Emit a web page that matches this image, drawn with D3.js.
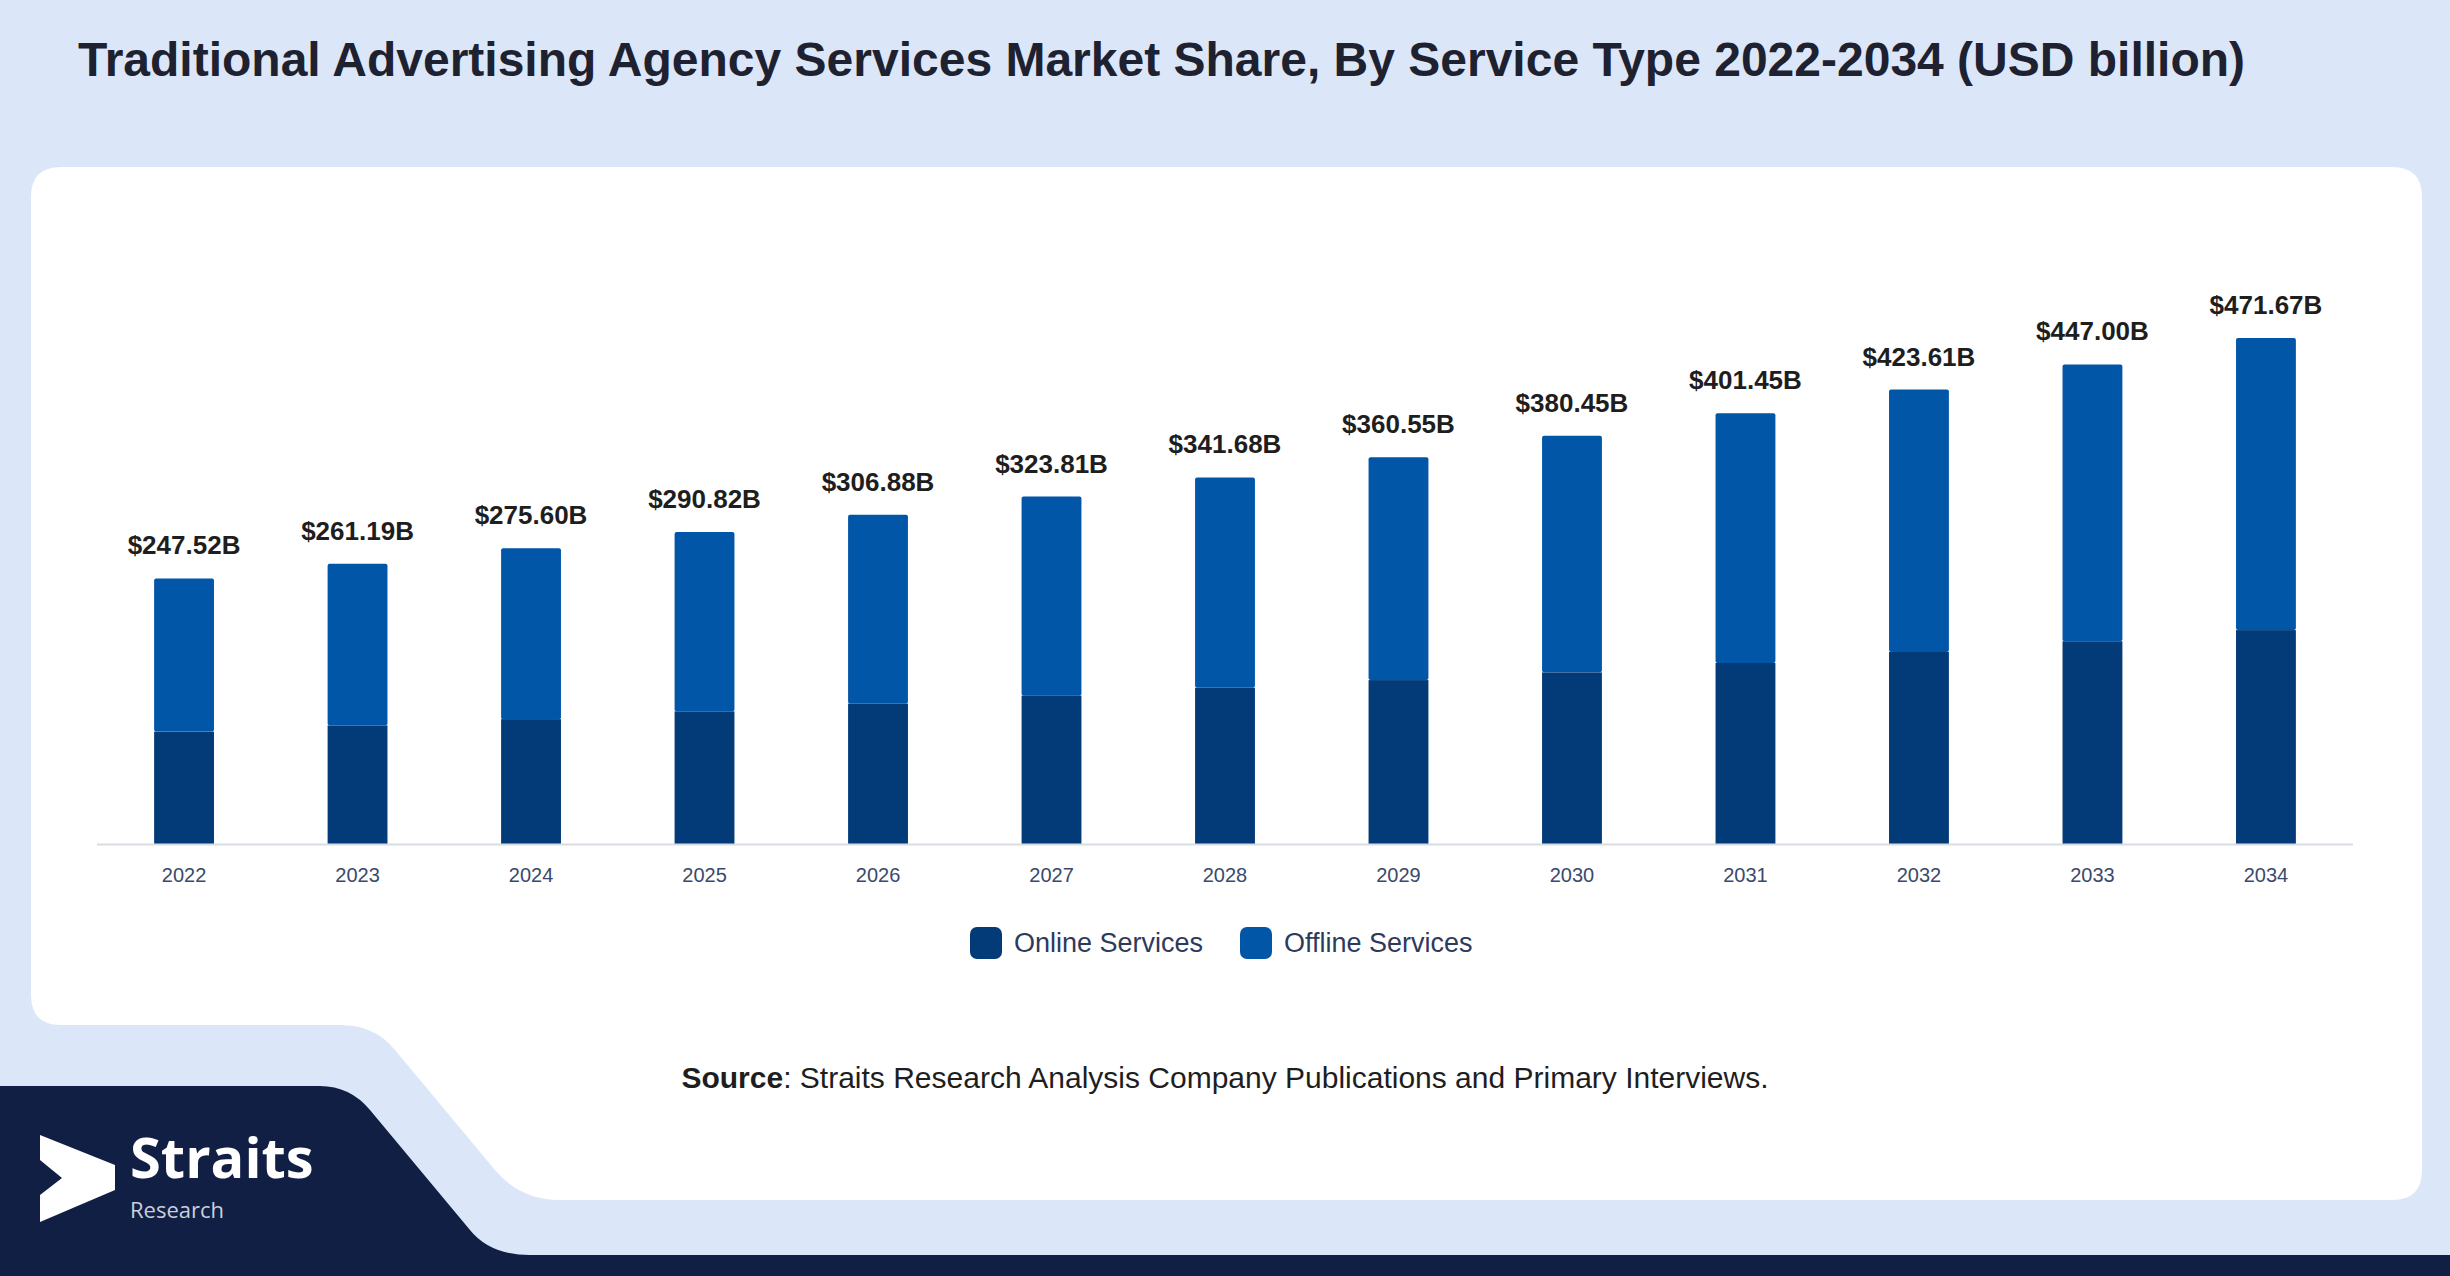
<!DOCTYPE html>
<html><head><meta charset="utf-8">
<script src="https://cdn.jsdelivr.net/npm/d3@7"></script>
<style>body{margin:0;background:#dbe7f8;}svg{display:block;}</style>
</head><body>
<svg id="c" width="2450" height="1276"></svg>
<script>
const years = ["2022","2023","2024","2025","2026","2027","2028","2029","2030","2031","2032","2033","2034"];
const totals = [247.52,261.19,275.60,290.82,306.88,323.81,341.68,360.55,380.45,401.45,423.61,447.00,471.67];
const online = [104.8,110.6,116.4,123.7,131.0,138.3,145.6,152.8,160.0,168.8,179.0,189.0,199.4];
const offline = totals.map((t,i)=>+(t-online[i]).toFixed(2));
const seriesNames = ["Online Services","Offline Services"];
const colors = ["#033a78","#0156a8"];

const svg = d3.select("#c");
svg.append("rect").attr("width",2450).attr("height",1276).attr("fill","#dbe7f8");
svg.append("path").attr("fill","#fff").attr("d",
 "M31,197 Q31,167 61,167 L2392,167 Q2422,167 2422,197 L2422,1170 Q2422,1200 2392,1200 L560,1200 Q520,1200 495,1170 L395,1050 Q375,1025 340,1025 L61,1025 Q31,1025 31,995 Z");
svg.append("path").attr("fill","#121f45").attr("d",
 "M0,1086 L320,1086 Q350,1086 370,1110 L470,1230 Q490,1255 530,1255 L2450,1255 L2450,1276 L0,1276 Z");

svg.append("text").attr("x",78).attr("y",76).attr("font-family","Liberation Sans, Arial, sans-serif")
 .attr("font-weight","bold").attr("font-size",48).attr("fill","#1e2230")
 .text("Traditional Advertising Agency Services Market Share, By Service Type 2022-2034 (USD billion)");

const x = d3.scaleBand().domain(years).range([93.4,2356.6]).paddingInner(0.655).paddingOuter(0.35);
const y = d3.scaleLinear().domain([0,471.67]).range([844,338]);

const data = years.map((yr,i)=>({year:yr,online:online[i],offline:offline[i],total:totals[i]}));
const stack = d3.stack().keys(["online","offline"])(data);
const g = svg.append("g");
stack.forEach((s,si)=>{
  g.selectAll(null).data(s).enter().append("rect")
   .attr("x",d=>x(d.data.year)).attr("width",x.bandwidth())
   .attr("y",d=>y(d[1])).attr("height",d=>y(d[0])-y(d[1]))
   .attr("fill",colors[si]).attr("rx",si===1?2:0);
});
svg.append("line").attr("x1",97).attr("x2",2353).attr("y1",844.5).attr("y2",844.5).attr("stroke","#d8dce3").attr("stroke-width",2);

g.selectAll(null).data(data).enter().append("text")
 .attr("x",d=>x(d.year)+x.bandwidth()/2).attr("y",d=>y(d.total)-24)
 .attr("text-anchor","middle").attr("font-family","Liberation Sans, Arial, sans-serif")
 .attr("font-weight","bold").attr("font-size",26).attr("fill","#1e1e1e")
 .text(d=>"$"+d.total.toFixed(2)+"B");

const ax = svg.append("g").attr("transform","translate(0,845)").call(d3.axisBottom(x).tickSize(0).tickPadding(23));
ax.select(".domain").remove();
ax.selectAll("text").attr("font-family","Liberation Sans, Arial, sans-serif").attr("font-size",20).attr("fill","#3a4a6b");

const leg = svg.append("g");
const lx = [970,1240];
seriesNames.forEach((n,i)=>{
  leg.append("rect").attr("x",lx[i]).attr("y",927).attr("width",32).attr("height",32).attr("rx",7).attr("fill",colors[i]);
  leg.append("text").attr("x",lx[i]+44).attr("y",952).attr("font-family","Liberation Sans, Arial, sans-serif")
   .attr("font-size",27).attr("fill","#2d3a5c").text(n);
});

const src = svg.append("text").attr("x",1225).attr("y",1088).attr("text-anchor","middle")
 .attr("font-family","Liberation Sans, Arial, sans-serif").attr("font-size",30).attr("fill","#1e1e1e");
src.append("tspan").attr("font-weight","bold").text("Source");
src.append("tspan").text(": Straits Research Analysis Company Publications and Primary Interviews.");

svg.append("path").attr("fill","#fff").attr("d","M40,1135 L115,1165 L115,1190 L40,1222 L40,1195 L62,1178 L40,1160 Z");
svg.append("text").attr("x",130).attr("y",1178).attr("font-family","Open Sans, sans-serif").attr("font-weight","bold")
 .attr("font-size",56).attr("fill","#fff").text("Straits");
svg.append("text").attr("x",130).attr("y",1218).attr("font-family","Open Sans, sans-serif")
 .attr("font-size",22).attr("fill","#c9cfdc").text("Research");
</script>
</body></html>
